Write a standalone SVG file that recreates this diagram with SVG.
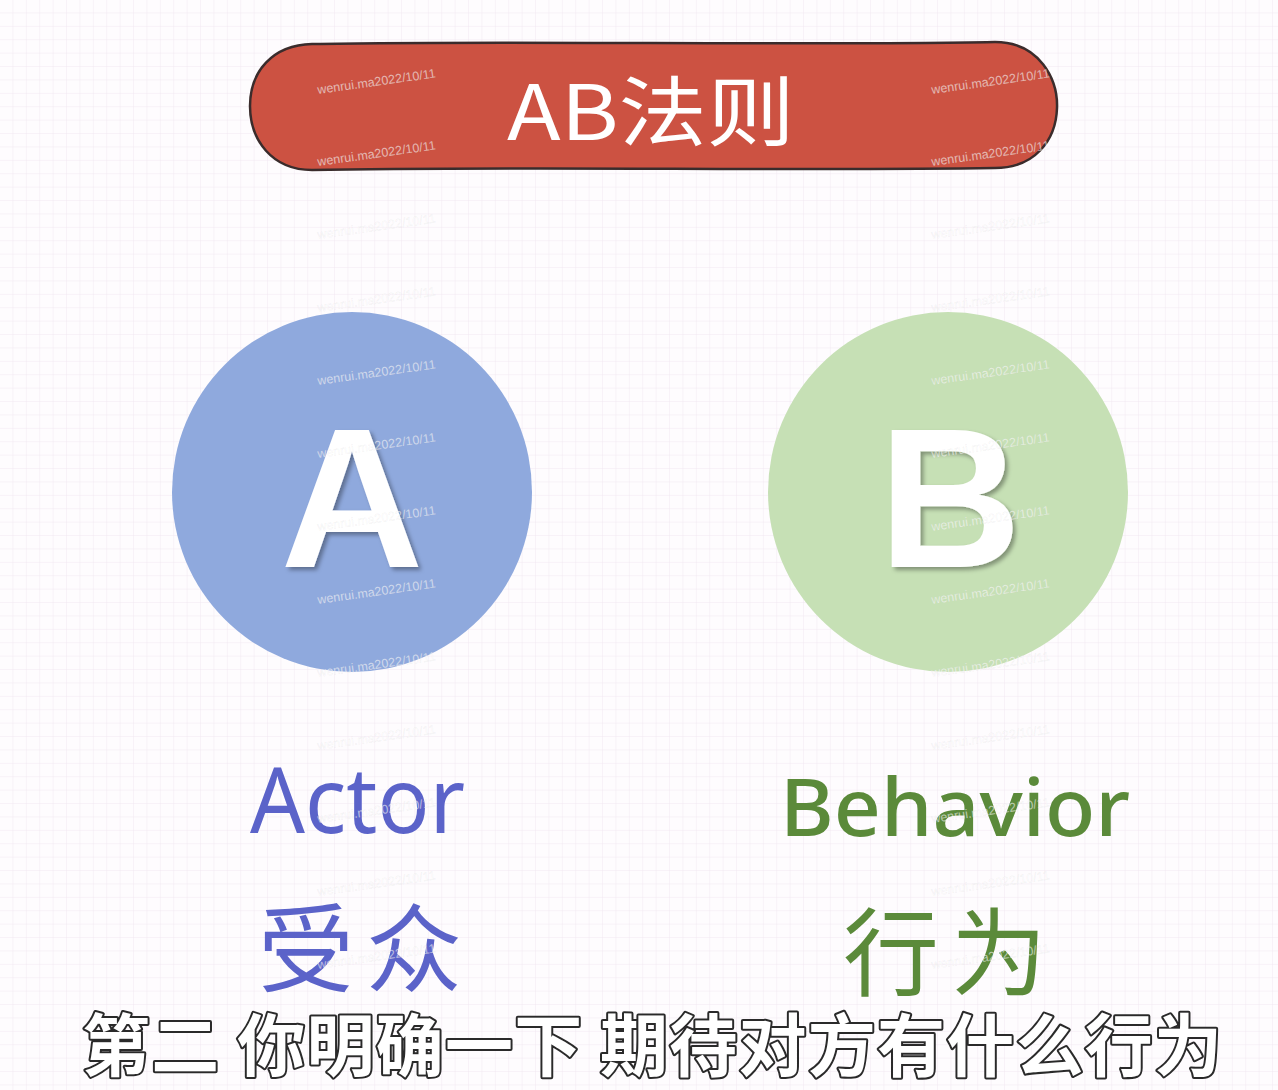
<svg xmlns="http://www.w3.org/2000/svg" width="1278" height="1090" viewBox="0 0 1278 1090">
<style>
.wm{font-family:"Liberation Sans",Arial,sans-serif;font-size:12.5px;fill:#ffffff;fill-opacity:0.6;stroke:#8a8a8a;stroke-opacity:0.1;stroke-width:0.5}
.big{font-family:"Liberation Sans",Arial,sans-serif;font-weight:700;font-size:198px;fill:#ffffff;text-anchor:middle}
.hand{font-family:"Noto Sans","Noto Sans CJK SC",sans-serif}
.cjk{font-family:"Noto Sans CJK SC","Noto Sans",sans-serif}
.sub{font-family:"Noto Sans CJK SC",sans-serif;font-weight:700;font-size:68px;fill:#ffffff;stroke:#2a2a2a;stroke-width:4;paint-order:stroke;stroke-linejoin:round}
</style>
<defs>
<pattern id="grid" width="13.4" height="13.4" patternUnits="userSpaceOnUse">
<path d="M13.4 0V13.4M0 13.4H13.4" fill="none" stroke="#f1e8f1" stroke-width="1"/>
</pattern>
<filter id="sh" x="-20%" y="-20%" width="140%" height="140%">
<feDropShadow dx="3" dy="3" stdDeviation="2" flood-color="#000" flood-opacity="0.35"/>
</filter>
</defs>
<rect width="1278" height="1090" fill="#fefcfe"/>
<rect width="1278" height="1090" fill="url(#grid)"/>
<g id="connectors"/>
<g id="title">
<path d="M312,44 C500,40 800,46 995,42 C1040,42 1058,80 1057,108 C1056,140 1035,168 995,168 C800,171 500,166 312,170 C272,170 250,140 250,106 C250,72 272,45 312,44 Z" fill="#cc5242" stroke="#3a2c2c" stroke-width="2.5"/>
<text class="cjk" x="507" y="140" font-size="76" fill="#ffffff" textLength="288" lengthAdjust="spacingAndGlyphs">AB法则</text>
</g>
<g id="node-a">
<circle cx="352" cy="492" r="180" fill="#8fa9dd"/>
<text class="big" x="352" y="567" filter="url(#sh)">A</text>
</g>
<g id="node-b">
<circle cx="948" cy="492" r="180" fill="#c6e0b5"/>
<text class="big" x="950" y="567" filter="url(#sh)">B</text>
</g>
<g id="label-a">
<text class="hand" x="250" y="833" font-size="92" fill="#5b63c9" textLength="215" lengthAdjust="spacingAndGlyphs">Actor</text>
<text class="cjk" x="258" y="984" font-size="96" fill="#5b63c9" textLength="204" lengthAdjust="spacing">受众</text>
</g>
<g id="label-b">
<text class="hand" x="780" y="836" font-size="80" fill="#5b8a3a" font-weight="500" textLength="350" lengthAdjust="spacingAndGlyphs">Behavior</text>
<text class="cjk" x="843" y="988" font-size="96" fill="#5b8a3a" textLength="204" lengthAdjust="spacing">行为</text>
</g>
<g id="subtitle">
<text class="sub" x="82" y="1071" textLength="1140" lengthAdjust="spacing">第二 你明确一下 期待对方有什么行为</text>
</g>
<g id="watermarks">
<text class="wm" transform="translate(318,94) rotate(-8)">wenrui.ma2022/10/11</text>
<text class="wm" transform="translate(318,166) rotate(-8)">wenrui.ma2022/10/11</text>
<text class="wm" transform="translate(318,239) rotate(-8)">wenrui.ma2022/10/11</text>
<text class="wm" transform="translate(318,312) rotate(-8)">wenrui.ma2022/10/11</text>
<text class="wm" transform="translate(318,385) rotate(-8)">wenrui.ma2022/10/11</text>
<text class="wm" transform="translate(318,458) rotate(-8)">wenrui.ma2022/10/11</text>
<text class="wm" transform="translate(318,531) rotate(-8)">wenrui.ma2022/10/11</text>
<text class="wm" transform="translate(318,604) rotate(-8)">wenrui.ma2022/10/11</text>
<text class="wm" transform="translate(318,677) rotate(-8)">wenrui.ma2022/10/11</text>
<text class="wm" transform="translate(318,750) rotate(-8)">wenrui.ma2022/10/11</text>
<text class="wm" transform="translate(318,823) rotate(-8)">wenrui.ma2022/10/11</text>
<text class="wm" transform="translate(318,896) rotate(-8)">wenrui.ma2022/10/11</text>
<text class="wm" transform="translate(318,969) rotate(-8)">wenrui.ma2022/10/11</text>
<text class="wm" transform="translate(932,94) rotate(-8)">wenrui.ma2022/10/11</text>
<text class="wm" transform="translate(932,166) rotate(-8)">wenrui.ma2022/10/11</text>
<text class="wm" transform="translate(932,239) rotate(-8)">wenrui.ma2022/10/11</text>
<text class="wm" transform="translate(932,312) rotate(-8)">wenrui.ma2022/10/11</text>
<text class="wm" transform="translate(932,385) rotate(-8)">wenrui.ma2022/10/11</text>
<text class="wm" transform="translate(932,458) rotate(-8)">wenrui.ma2022/10/11</text>
<text class="wm" transform="translate(932,531) rotate(-8)">wenrui.ma2022/10/11</text>
<text class="wm" transform="translate(932,604) rotate(-8)">wenrui.ma2022/10/11</text>
<text class="wm" transform="translate(932,677) rotate(-8)">wenrui.ma2022/10/11</text>
<text class="wm" transform="translate(932,750) rotate(-8)">wenrui.ma2022/10/11</text>
<text class="wm" transform="translate(932,823) rotate(-8)">wenrui.ma2022/10/11</text>
<text class="wm" transform="translate(932,896) rotate(-8)">wenrui.ma2022/10/11</text>
<text class="wm" transform="translate(932,969) rotate(-8)">wenrui.ma2022/10/11</text>
</g>
</svg>
